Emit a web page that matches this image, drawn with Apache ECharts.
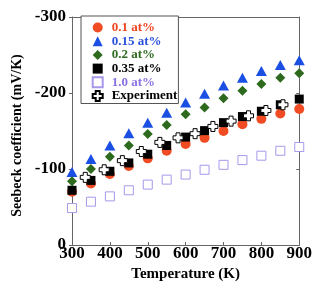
<!DOCTYPE html>
<html>
<head>
<meta charset="utf-8">
<script src="https://cdn.jsdelivr.net/npm/echarts@6/dist/echarts.min.js"></script>
<style>
html,body{margin:0;padding:0;background:#fff;}
#chart{width:315px;height:289px;}
</style>
</head>
<body>
<div id="chart"></div>
<script>
// Data
const temps = [300, 350, 400, 450, 500, 550, 600, 650, 700, 750, 800, 850, 900];
const s01  = [-70, -81, -93.5, -104, -114, -124, -133, -141, -150, -159, -166, -173, -179];
const s015 = [-96, -113, -131, -147, -161, -174, -187.5, -199, -210, -220, -229, -237, -243];
const s02  = [-84, -100, -116, -131, -146, -158, -172, -181, -193, -203, -212, -220, -226];
const s035 = [-72, -85, -97, -108, -119.5, -131, -142, -150.5, -161, -169, -176, -184.5, -192];
const s10  = [-48.6, -57, -64, -72, -79.5, -86, -92.7, -99, -105.5, -111.7, -117.5, -124, -129];
const expT = [335, 385, 433, 483, 532, 580, 625, 672, 720, 766, 812, 857];
const expS = [-89, -99, -111, -123, -135, -141, -146.5, -156, -163, -170, -177, -184.5];
const seriesNames = ['0.1 at%', '0.15 at%', '0.2 at%', '0.35 at%', '1.0 at%', 'Experiment'];
const xTicks = [300, 400, 500, 600, 700, 800, 900];
const yTicks = [-300, -200, -100, 0];

const FONT = '"Liberation Serif", "Times New Roman", serif';
const textColors = ['#ee4422', '#2a50dd', '#2e6a1f', '#000000', '#8a70e0', '#000000'];

function pairs(xs, ys) { return xs.map((x, i) => [x, ys[i]]); }

const chart = echarts.init(document.getElementById('chart'), null, {renderer: 'canvas'});
const frameColor = '#666';
const crossPath = 'path://M3,0 H7 V3 H10 V7 H7 V10 H3 V7 H0 V3 H3 Z';

chart.setOption({
  animation: false,
  backgroundColor: '#fff',
  grid: {left: 72, right: 13, top: 17, bottom: 44, containLabel: false},
  legend: {
    orient: 'vertical',
    left: 81, top: 16,
    itemWidth: 10, itemHeight: 10, itemGap: 0.7,
    padding: [5, 1, 1, 10.7],
    borderColor: '#555', borderWidth: 1,
    backgroundColor: '#fff',
    textStyle: {fontFamily: FONT, fontSize: 13, fontWeight: 'bold', lineHeight: 10, padding: [0, 0, 0, 4]},
    data: seriesNames.map((n, i) => ({name: n, textStyle: {color: textColors[i]}}))
  },
  xAxis: [{
    type: 'value', min: 300, max: 900, interval: 100, position: 'bottom',
    axisLine: {show: true, lineStyle: {color: frameColor, width: 1}},
    axisTick: {show: true, inside: true, length: 3, lineStyle: {color: frameColor}},
    axisLabel: {margin: 0, fontSize: 17, fontWeight: 'bold', color: '#000', fontFamily: FONT,
      formatter: v => xTicks.includes(v) ? String(v) : ''},
    splitLine: {show: false},
    name: 'Temperature (K)', nameLocation: 'middle', nameGap: 16,
    nameTextStyle: {fontSize: 15, fontWeight: 'bold', color: '#000', fontFamily: FONT}
  }, {
    type: 'value', min: 300, max: 900, interval: 100, position: 'top',
    axisLine: {show: true, onZero: false, lineStyle: {color: frameColor, width: 1}},
    axisTick: {show: false}, axisLabel: {show: false}, splitLine: {show: false}
  }],
  yAxis: [{
    type: 'value', min: -300, max: 0, interval: 100, inverse: true, position: 'left',
    axisLine: {show: true, onZero: false, lineStyle: {color: frameColor, width: 1}},
    axisTick: {show: true, inside: false, length: 3, lineStyle: {color: frameColor}},
    axisLabel: {margin: 6, fontSize: 17, fontWeight: 'bold', color: '#000', fontFamily: FONT,
      formatter: v => yTicks.includes(v) ? String(v) : ''},
    splitLine: {show: false},
    name: 'Seebeck coefficient (mV/K)', nameLocation: 'middle', nameGap: 29,
    nameTextStyle: {fontSize: 14, fontWeight: 'bold', color: '#000', fontFamily: FONT, padding: [0, 9, 0, 0]}
  }, {
    type: 'value', min: -300, max: 0, interval: 100, inverse: true, position: 'right',
    axisLine: {show: true, onZero: false, lineStyle: {color: frameColor, width: 1}},
    axisTick: {show: true, inside: true, length: 3, lineStyle: {color: frameColor}},
    axisLabel: {show: false}, splitLine: {show: false}
  }],
  series: [
    {name: seriesNames[0], type: 'scatter', symbol: 'circle', symbolSize: 10,
     itemStyle: {color: '#f04b23', opacity: 1}, data: pairs(temps, s01)},
    {name: seriesNames[1], type: 'scatter', symbol: 'triangle', symbolSize: [11, 10],
     itemStyle: {color: '#1b4fe3', opacity: 1}, data: pairs(temps, s015)},
    {name: seriesNames[2], type: 'scatter', symbol: 'diamond', symbolSize: 10,
     itemStyle: {color: '#2d6a1e', opacity: 1}, data: pairs(temps, s02)},
    {name: seriesNames[3], type: 'scatter', symbol: 'rect', symbolSize: 9,
     itemStyle: {color: '#000', opacity: 1}, data: pairs(temps, s035)},
    {name: seriesNames[4], type: 'scatter', symbol: 'rect', symbolSize: 9,
     itemStyle: {color: '#fff', borderColor: '#a997ea', borderWidth: 1, opacity: 1}, data: pairs(temps, s10)},
    {name: seriesNames[5], type: 'scatter', symbol: crossPath, symbolSize: 10,
     itemStyle: {color: '#fff', borderColor: '#000', borderWidth: 1, opacity: 1}, data: pairs(expT, expS)}
  ]
});
</script>
</body>
</html>
